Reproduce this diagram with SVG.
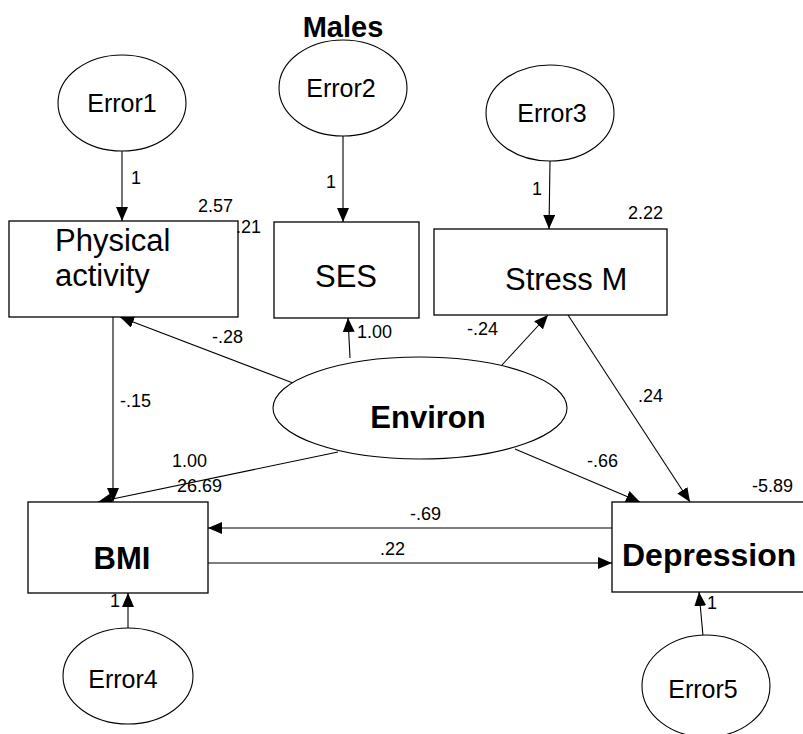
<svg xmlns="http://www.w3.org/2000/svg" width="803" height="734" viewBox="0 0 803 734">
<defs>
<marker id="ah" viewBox="0 0 14 12" refX="14" refY="6" markerWidth="14" markerHeight="12" markerUnits="userSpaceOnUse" orient="auto">
<path d="M0,0 L14,6 L0,12 Z" fill="#000"/>
</marker>
</defs>
<style>
text{font-family:"Liberation Sans",Arial,sans-serif;fill:#000}
.box{fill:#fff;stroke:#000;stroke-width:1.3}
.ell{fill:#fff;stroke:#000;stroke-width:1.1}
.lbl{font-size:18px}
.err{font-size:25px;text-anchor:middle}
.big{font-size:31px}
.bold{font-size:31px;font-weight:bold}
.edge{stroke:#000;stroke-width:1.1;fill:none;marker-end:url(#ah)}
</style>
<rect width="803" height="734" fill="#fff"/>
<text x="343" y="37" text-anchor="middle" style="font-size:29px;font-weight:bold">Males</text>

<g id="connectors">
<line class="edge" x1="122" y1="151" x2="122" y2="221"/>
<line class="edge" x1="343" y1="136" x2="343" y2="222"/>
<line class="edge" x1="550" y1="161" x2="549" y2="229"/>
<line class="edge" x1="293" y1="383" x2="120" y2="317"/>
<line class="edge" x1="350" y1="358" x2="348" y2="318"/>
<line class="edge" x1="502" y1="365" x2="548" y2="315"/>
<line class="edge" x1="568" y1="315" x2="690" y2="502"/>
<line class="edge" x1="515" y1="449" x2="640" y2="502"/>
<line class="edge" x1="113" y1="317" x2="113" y2="502"/>
<line class="edge" x1="338" y1="452" x2="98" y2="502"/>
<line class="edge" x1="612" y1="528" x2="208" y2="528"/>
<line class="edge" x1="208" y1="563" x2="612" y2="563"/>
<line class="edge" x1="128" y1="628" x2="128" y2="593"/>
<line class="edge" x1="703" y1="636" x2="699" y2="592"/>
<text class="lbl" x="131" y="184">1</text>
<text class="lbl" x="326" y="188">1</text>
<text class="lbl" x="532" y="195">1</text>
<text class="lbl" x="212" y="343">-.28</text>
<text class="lbl" x="357" y="338">1.00</text>
<text class="lbl" x="467" y="335">-.24</text>
<text class="lbl" x="638" y="402">.24</text>
<text class="lbl" x="587" y="467">-.66</text>
<text class="lbl" x="120" y="407">-.15</text>
<text class="lbl" x="172" y="467">1.00</text>
<text class="lbl" x="177" y="492">26.69</text>
<text class="lbl" x="410" y="520">-.69</text>
<text class="lbl" x="380" y="555">.22</text>
<text class="lbl" x="110" y="607">1</text>
<text class="lbl" x="707" y="609">1</text>
</g>

<g id="error1"><ellipse class="ell" cx="122" cy="103" rx="64" ry="48"/><text class="err" x="122" y="112">Error1</text></g>
<g id="error2"><ellipse class="ell" cx="343" cy="88" rx="64" ry="48"/><text class="err" x="341" y="97">Error2</text></g>
<g id="error3"><ellipse class="ell" cx="550" cy="113" rx="64" ry="48"/><text class="err" x="552" y="122">Error3</text></g>

<g id="physical"><rect class="box" x="9" y="221" width="229" height="96"/>
<text class="big" x="55" y="251">Physical</text><text class="big" x="55" y="286">activity</text>
<text class="lbl" x="198" y="212">2.57</text><text class="lbl" x="236" y="233">.21</text></g>
<g id="ses"><rect class="box" x="274" y="222" width="145" height="96"/><text class="big" x="346" y="287" text-anchor="middle">SES</text></g>
<g id="stress"><rect class="box" x="434" y="229" width="233" height="86"/><text class="big" x="505" y="290">Stress M</text>
<text class="lbl" x="628" y="219">2.22</text></g>

<g id="environ"><ellipse class="ell" cx="420" cy="408" rx="147" ry="51"/><text class="bold" x="428" y="428" text-anchor="middle">Environ</text></g>

<g id="bmi"><rect class="box" x="28" y="502" width="180" height="91"/><text class="bold" x="122" y="569" text-anchor="middle">BMI</text></g>
<g id="depression"><rect class="box" x="612" y="502" width="200" height="90"/><text class="bold" x="622" y="566" style="font-size:32px">Depression</text>
<text class="lbl" x="752" y="492">-5.89</text></g>

<g id="error4"><ellipse class="ell" cx="128" cy="676" rx="65" ry="48"/><text class="err" x="123" y="688">Error4</text></g>
<g id="error5"><ellipse class="ell" cx="706" cy="686" rx="64" ry="51"/><text class="err" x="703" y="698">Error5</text></g>
</svg>
